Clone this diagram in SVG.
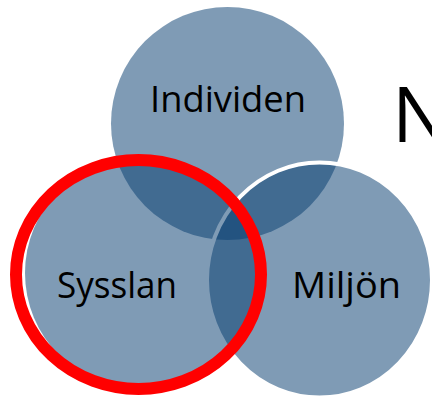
<svg xmlns="http://www.w3.org/2000/svg" width="432" height="397" viewBox="0 0 432 397">
<style>
.c{fill:rgb(7,61,112);fill-opacity:0.516}
.lbl{font-family:"Open Sans","Liberation Sans",sans-serif;font-size:36px;fill:#000;text-anchor:middle}
</style>
<rect width="432" height="397" fill="#fff"/>
<text x="392" y="142" font-family="'Open Sans','Liberation Sans',sans-serif" font-size="77" fill="#000">N</text>
<g id="individen">
<circle class="c" cx="227.5" cy="123.5" r="116.5"/>
</g>
<g id="miljon">
<ellipse class="c" cx="319.5" cy="280" rx="112.5" ry="117.5" stroke="#fff" stroke-width="4"/>
</g>
<g id="sysslan">
<circle class="c" cx="141" cy="273" r="116"/>
</g>
<g id="labels">
<text class="lbl" x="228" y="112" textLength="156" lengthAdjust="spacingAndGlyphs">Individen</text>
<text class="lbl" x="117" y="298" textLength="120" lengthAdjust="spacingAndGlyphs">Sysslan</text>
<text class="lbl" x="346.5" y="298" textLength="109" lengthAdjust="spacingAndGlyphs">Miljön</text>
</g>
<g id="highlight">
<ellipse cx="138.5" cy="274.5" rx="122.5" ry="114.5" fill="none" stroke="#ff0000" stroke-width="12"/>
</g>
<g id="connectors"/>
</svg>
